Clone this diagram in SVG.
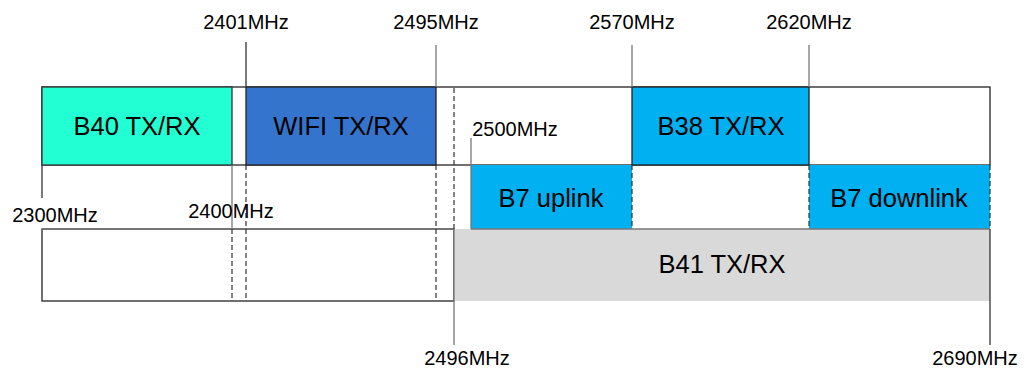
<svg xmlns="http://www.w3.org/2000/svg" width="1027" height="369" viewBox="0 0 1027 369">
<style>
text{font-family:"Liberation Sans",Arial,sans-serif;fill:#000}
.lbl{font-size:20px;text-anchor:middle}
.box{font-size:25.5px;text-anchor:middle}
.solid{stroke:#333;stroke-width:1.3;fill:none}
.gray{stroke:#777;stroke-width:1.3;fill:none}
.dash{stroke:#333;stroke-width:1.2;stroke-dasharray:5,3;fill:none}
</style>
<rect width="1027" height="369" fill="#fff"/>
<g id="row1">
<rect x="42" y="87" width="948" height="78" fill="#fff" stroke="#222" stroke-width="1.3"/>
</g>
<g id="b40"><rect x="42" y="87" width="190" height="78" fill="#21FFD3" stroke="#333" stroke-width="1.3"/><text class="box" x="137" y="135">B40 TX/RX</text></g>
<g id="wifi"><rect x="246" y="87" width="190" height="78" fill="#3574CC" stroke="#222" stroke-width="1.3"/><text class="box" x="341" y="135">WIFI TX/RX</text></g>
<g id="b38"><rect x="632" y="87" width="177" height="78" fill="#00B0F0" stroke="#222" stroke-width="1.3"/><text class="box" x="721" y="135">B38 TX/RX</text></g>
<g id="b7up"><rect x="471" y="165" width="161" height="64" fill="#00B0F0"/><text class="box" x="551" y="207">B7 uplink</text></g>
<g id="b7down"><rect x="809" y="165" width="181" height="64" fill="#00B0F0"/><text class="box" x="899" y="207">B7 downlink</text></g>
<g id="row3"><rect x="42" y="229" width="412" height="72" fill="#fff" stroke="#222" stroke-width="1.3"/></g>
<g id="b41"><rect x="454" y="229" width="536" height="72" fill="#D9D9D9"/><text class="box" x="722" y="273">B41 TX/RX</text></g>
<g id="connectors">
<line class="gray" x1="42" y1="229" x2="454" y2="229"/>
<line class="gray" x1="471" y1="229" x2="990" y2="229"/>
<line class="solid" x1="42" y1="165" x2="42" y2="198"/>
<line class="gray" x1="232" y1="165" x2="232" y2="229"/>
<line class="dash" x1="232" y1="229" x2="232" y2="301"/>
<line class="solid" x1="246" y1="42" x2="246" y2="87"/>
<line class="dash" x1="246" y1="165" x2="246" y2="301"/>
<line class="gray" x1="436" y1="45" x2="436" y2="87"/>
<line class="dash" x1="436" y1="165" x2="436" y2="301"/>
<line class="dash" x1="454" y1="88" x2="454" y2="229"/>
<line class="gray" x1="454" y1="229" x2="454" y2="345"/>
<line class="gray" x1="471" y1="138" x2="471" y2="229"/>
<line class="gray" x1="632" y1="45" x2="632" y2="87"/>
<line class="gray" x1="809" y1="45" x2="809" y2="87"/>
<line class="dash" x1="632" y1="165" x2="632" y2="229"/>
<line class="dash" x1="809" y1="165" x2="809" y2="229"/>
<line class="dash" x1="990" y1="165" x2="990" y2="229"/>
<line class="solid" x1="990" y1="229" x2="990" y2="345"/>
</g>
<g id="labels">
<text class="lbl" x="246" y="29">2401MHz</text>
<text class="lbl" x="436" y="29">2495MHz</text>
<text class="lbl" x="632" y="29">2570MHz</text>
<text class="lbl" x="809" y="29">2620MHz</text>
<text class="lbl" x="515" y="136">2500MHz</text>
<text class="lbl" x="55" y="222">2300MHz</text>
<text class="lbl" x="231" y="218">2400MHz</text>
<text class="lbl" x="467" y="365">2496MHz</text>
<text class="lbl" x="975" y="365">2690MHz</text>
</g>
</svg>
